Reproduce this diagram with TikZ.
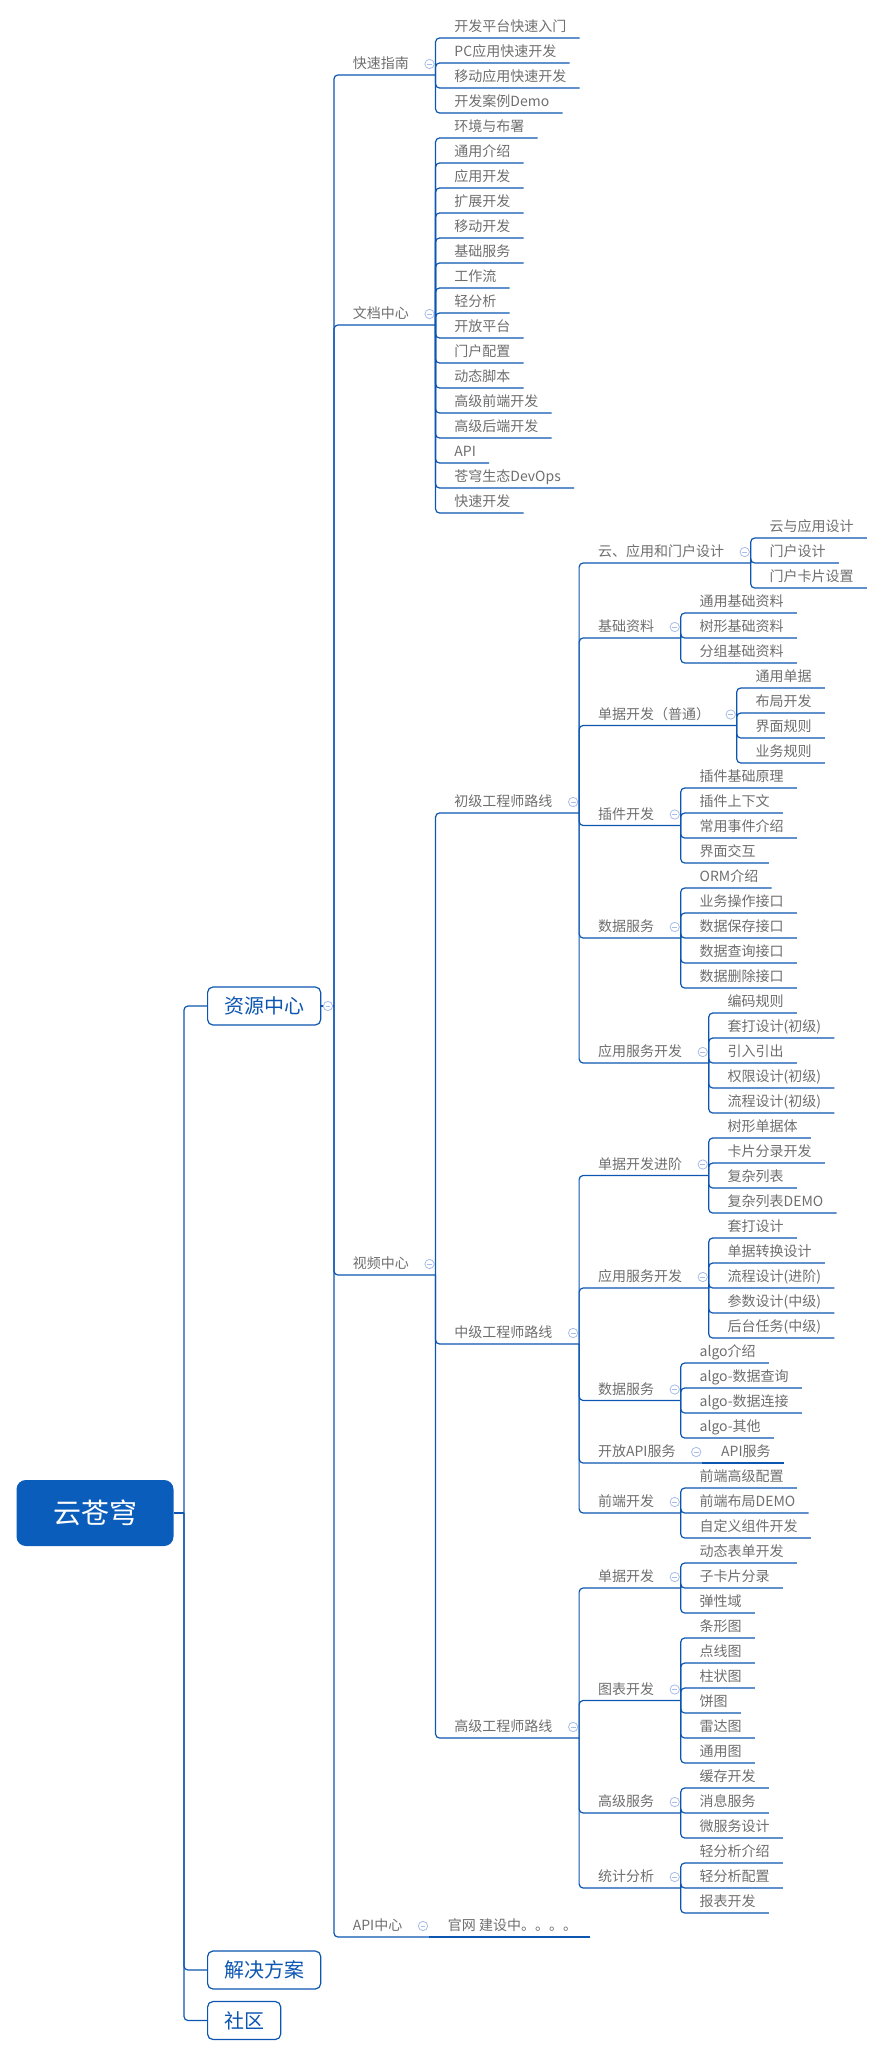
\documentclass[tikz,border=0pt]{standalone}
\usepackage{fontspec}
\setmainfont{Noto Sans CJK SC}
\definecolor{linec}{HTML}{0C56B2}
\definecolor{rootc}{HTML}{0B5DBB}
\definecolor{txtc}{HTML}{6E6E6E}
\definecolor{foldc}{HTML}{A8BCE8}
\begin{document}
\begin{tikzpicture}[x=0.75pt, y=-0.75pt,
    link/.style={draw=linec, line width=0.9pt, rounded corners=3pt},
    topic/.style={anchor=south west, xshift=14pt, inner xsep=0pt, inner ysep=4.5pt, text depth=0pt, text=txtc, font=\fontsize{10.5pt}{12pt}\selectfont},
    box/.style={anchor=west, draw=linec, line width=0.9pt, rounded corners=4pt, fill=white, text=linec, inner xsep=12.4pt, minimum height=28.5pt, font=\fontsize{15pt}{18pt}\selectfont},
    rootbox/.style={fill=rootc, rounded corners=7pt, text=white, minimum width=117.75pt, minimum height=49.5pt, font=\fontsize{21pt}{24pt}\selectfont},
    fold/.style={circle, draw=foldc, fill=white, line width=0.6pt, minimum size=7pt, inner sep=0pt,
        path picture={\draw[foldc, line width=0.6pt] ([xshift=-1.8pt]path picture bounding box.center) -- ([xshift=1.8pt]path picture bounding box.center);}}]
    \useasboundingbox (0,0) rectangle (883,2056);

    % root and first level
    \node[rootbox] (root) at (95,1513) {云苍穹};
    \coordinate (trunk) at (184,1513);
    \node[box] (zyzx) at (207,1006) {资源中心};
    \node[box] (jjfa) at (207,1970) {解决方案};
    \node[box] (sq) at (207,2020.5) {社区};
    \draw[link] (root.east) -- (trunk);
    \foreach \c in {zyzx,jjfa,sq} \draw[link] (trunk) |- (\c.west);
    \coordinate (zyzx-e) at ([xshift=9.5pt]zyzx.east);
    \draw[link] (zyzx.east) -- (zyzx-e);
    \node[fold] (zyzx-f) at ([xshift=5pt]zyzx.east) {};

    % second level
    \node[topic] (kszn) at (zyzx-e |- 0,75) {快速指南};
    \node[topic] (wdzx) at (zyzx-e |- 0,325) {文档中心};
    \node[topic] (spzx) at (zyzx-e |- 0,1275) {视频中心};
    \node[topic] (apizx) at (zyzx-e |- 0,1937) {API中心};
    \foreach \c in {kszn,wdzx,spzx,apizx}{
        \coordinate (\c-e) at ([xshift=19.8pt]\c.south east);
        \node[fold] (\c-f) at ([xshift=15.3pt,yshift=8.25pt]\c.south east) {};
        \draw[link] (zyzx-e) |- (\c-e);
    }

    % quick guide
    \node[topic] (k1) at (kszn-e |- 0,38) {开发平台快速入门};
    \node[topic] (k2) at (kszn-e |- 0,63) {PC应用快速开发};
    \node[topic] (k3) at (kszn-e |- 0,88) {移动应用快速开发};
    \node[topic] (k4) at (kszn-e |- 0,113) {开发案例Demo};
    \foreach \c in {k1,k2,k3,k4} \draw[link] (kszn-e) |- ([xshift=9.75pt]\c.south east);

    % documents
    \node[topic] (w1) at (wdzx-e |- 0,138) {环境与布署};
    \node[topic] (w2) at (wdzx-e |- 0,163) {通用介绍};
    \node[topic] (w3) at (wdzx-e |- 0,188) {应用开发};
    \node[topic] (w4) at (wdzx-e |- 0,213) {扩展开发};
    \node[topic] (w5) at (wdzx-e |- 0,238) {移动开发};
    \node[topic] (w6) at (wdzx-e |- 0,263) {基础服务};
    \node[topic] (w7) at (wdzx-e |- 0,288) {工作流};
    \node[topic] (w8) at (wdzx-e |- 0,313) {轻分析};
    \node[topic] (w9) at (wdzx-e |- 0,338) {开放平台};
    \node[topic] (w10) at (wdzx-e |- 0,363) {门户配置};
    \node[topic] (w11) at (wdzx-e |- 0,388) {动态脚本};
    \node[topic] (w12) at (wdzx-e |- 0,413) {高级前端开发};
    \node[topic] (w13) at (wdzx-e |- 0,438) {高级后端开发};
    \node[topic] (w14) at (wdzx-e |- 0,463) {API};
    \node[topic] (w15) at (wdzx-e |- 0,488) {苍穹生态DevOps};
    \node[topic] (w16) at (wdzx-e |- 0,513) {快速开发};
    \foreach \c in {w1,w2,w3,w4,w5,w6,w7,w8,w9,w10,w11,w12,w13,w14,w15,w16}
        \draw[link] (wdzx-e) |- ([xshift=9.75pt]\c.south east);

    % videos
    \node[topic] (cj) at (spzx-e |- 0,813) {初级工程师路线};
    \node[topic] (zj) at (spzx-e |- 0,1344) {中级工程师路线};
    \node[topic] (gj) at (spzx-e |- 0,1738) {高级工程师路线};
    \foreach \c in {cj,zj,gj}{
        \coordinate (\c-e) at ([xshift=19.8pt]\c.south east);
        \node[fold] (\c-f) at ([xshift=15.3pt,yshift=8.25pt]\c.south east) {};
        \draw[link] (spzx-e) |- (\c-e);
    }

    % junior
    \node[topic] (cj1) at (cj-e |- 0,563) {云、应用和门户设计};
    \node[topic] (cj2) at (cj-e |- 0,638) {基础资料};
    \node[topic] (cj3) at (cj-e |- 0,725.5) {单据开发（普通）};
    \node[topic] (cj4) at (cj-e |- 0,825.5) {插件开发};
    \node[topic] (cj5) at (cj-e |- 0,938) {数据服务};
    \node[topic] (cj6) at (cj-e |- 0,1063) {应用服务开发};
    \foreach \c in {cj1,cj2,cj3,cj4,cj5,cj6}{
        \coordinate (\c-e) at ([xshift=19.8pt]\c.south east);
        \node[fold] (\c-f) at ([xshift=15.3pt,yshift=8.25pt]\c.south east) {};
        \draw[link] (cj-e) |- (\c-e);
    }
    \node[topic] (cj1a) at (cj1-e |- 0,538) {云与应用设计};
    \node[topic] (cj1b) at (cj1-e |- 0,563) {门户设计};
    \node[topic] (cj1c) at (cj1-e |- 0,588) {门户卡片设置};
    \foreach \c in {cj1a,cj1b,cj1c} \draw[link] (cj1-e) |- ([xshift=9.75pt]\c.south east);
    \node[topic] (cj2a) at (cj2-e |- 0,613) {通用基础资料};
    \node[topic] (cj2b) at (cj2-e |- 0,638) {树形基础资料};
    \node[topic] (cj2c) at (cj2-e |- 0,663) {分组基础资料};
    \foreach \c in {cj2a,cj2b,cj2c} \draw[link] (cj2-e) |- ([xshift=9.75pt]\c.south east);
    \node[topic] (cj3a) at (cj3-e |- 0,688) {通用单据};
    \node[topic] (cj3b) at (cj3-e |- 0,713) {布局开发};
    \node[topic] (cj3c) at (cj3-e |- 0,738) {界面规则};
    \node[topic] (cj3d) at (cj3-e |- 0,763) {业务规则};
    \foreach \c in {cj3a,cj3b,cj3c,cj3d} \draw[link] (cj3-e) |- ([xshift=9.75pt]\c.south east);
    \node[topic] (cj4a) at (cj4-e |- 0,788) {插件基础原理};
    \node[topic] (cj4b) at (cj4-e |- 0,813) {插件上下文};
    \node[topic] (cj4c) at (cj4-e |- 0,838) {常用事件介绍};
    \node[topic] (cj4d) at (cj4-e |- 0,863) {界面交互};
    \foreach \c in {cj4a,cj4b,cj4c,cj4d} \draw[link] (cj4-e) |- ([xshift=9.75pt]\c.south east);
    \node[topic] (cj5a) at (cj5-e |- 0,888) {ORM介绍};
    \node[topic] (cj5b) at (cj5-e |- 0,913) {业务操作接口};
    \node[topic] (cj5c) at (cj5-e |- 0,938) {数据保存接口};
    \node[topic] (cj5d) at (cj5-e |- 0,963) {数据查询接口};
    \node[topic] (cj5e) at (cj5-e |- 0,988) {数据删除接口};
    \foreach \c in {cj5a,cj5b,cj5c,cj5d,cj5e} \draw[link] (cj5-e) |- ([xshift=9.75pt]\c.south east);
    \node[topic] (cj6a) at (cj6-e |- 0,1013) {编码规则};
    \node[topic] (cj6b) at (cj6-e |- 0,1038) {套打设计(初级)};
    \node[topic] (cj6c) at (cj6-e |- 0,1063) {引入引出};
    \node[topic] (cj6d) at (cj6-e |- 0,1088) {权限设计(初级)};
    \node[topic] (cj6e) at (cj6-e |- 0,1113) {流程设计(初级)};
    \foreach \c in {cj6a,cj6b,cj6c,cj6d,cj6e} \draw[link] (cj6-e) |- ([xshift=9.75pt]\c.south east);

    % middle
    \node[topic] (zj1) at (zj-e |- 0,1175.5) {单据开发进阶};
    \node[topic] (zj2) at (zj-e |- 0,1288) {应用服务开发};
    \node[topic] (zj3) at (zj-e |- 0,1400.5) {数据服务};
    \node[topic] (zj4) at (zj-e |- 0,1463) {开放API服务};
    \node[topic] (zj5) at (zj-e |- 0,1513) {前端开发};
    \foreach \c in {zj1,zj2,zj3,zj4,zj5}{
        \coordinate (\c-e) at ([xshift=19.8pt]\c.south east);
        \node[fold] (\c-f) at ([xshift=15.3pt,yshift=8.25pt]\c.south east) {};
        \draw[link] (zj-e) |- (\c-e);
    }
    \node[topic] (zj1a) at (zj1-e |- 0,1138) {树形单据体};
    \node[topic] (zj1b) at (zj1-e |- 0,1163) {卡片分录开发};
    \node[topic] (zj1c) at (zj1-e |- 0,1188) {复杂列表};
    \node[topic] (zj1d) at (zj1-e |- 0,1213) {复杂列表DEMO};
    \foreach \c in {zj1a,zj1b,zj1c,zj1d} \draw[link] (zj1-e) |- ([xshift=9.75pt]\c.south east);
    \node[topic] (zj2a) at (zj2-e |- 0,1238) {套打设计};
    \node[topic] (zj2b) at (zj2-e |- 0,1263) {单据转换设计};
    \node[topic] (zj2c) at (zj2-e |- 0,1288) {流程设计(进阶)};
    \node[topic] (zj2d) at (zj2-e |- 0,1313) {参数设计(中级)};
    \node[topic] (zj2e) at (zj2-e |- 0,1338) {后台任务(中级)};
    \foreach \c in {zj2a,zj2b,zj2c,zj2d,zj2e} \draw[link] (zj2-e) |- ([xshift=9.75pt]\c.south east);
    \node[topic] (zj3a) at (zj3-e |- 0,1363) {algo介绍};
    \node[topic] (zj3b) at (zj3-e |- 0,1388) {algo-数据查询};
    \node[topic] (zj3c) at (zj3-e |- 0,1413) {algo-数据连接};
    \node[topic] (zj3d) at (zj3-e |- 0,1438) {algo-其他};
    \foreach \c in {zj3a,zj3b,zj3c,zj3d} \draw[link] (zj3-e) |- ([xshift=9.75pt]\c.south east);
    \node[topic] (zj4a) at (zj4-e |- 0,1463) {API服务};
    \draw[link] (zj4-e) -- ([xshift=9.75pt]zj4a.south east);
    \node[topic] (zj5a) at (zj5-e |- 0,1488) {前端高级配置};
    \node[topic] (zj5b) at (zj5-e |- 0,1513) {前端布局DEMO};
    \node[topic] (zj5c) at (zj5-e |- 0,1538) {自定义组件开发};
    \foreach \c in {zj5a,zj5b,zj5c} \draw[link] (zj5-e) |- ([xshift=9.75pt]\c.south east);

    % senior
    \node[topic] (gj1) at (gj-e |- 0,1588) {单据开发};
    \node[topic] (gj2) at (gj-e |- 0,1700.5) {图表开发};
    \node[topic] (gj3) at (gj-e |- 0,1813) {高级服务};
    \node[topic] (gj4) at (gj-e |- 0,1888) {统计分析};
    \foreach \c in {gj1,gj2,gj3,gj4}{
        \coordinate (\c-e) at ([xshift=19.8pt]\c.south east);
        \node[fold] (\c-f) at ([xshift=15.3pt,yshift=8.25pt]\c.south east) {};
        \draw[link] (gj-e) |- (\c-e);
    }
    \node[topic] (gj1a) at (gj1-e |- 0,1563) {动态表单开发};
    \node[topic] (gj1b) at (gj1-e |- 0,1588) {子卡片分录};
    \node[topic] (gj1c) at (gj1-e |- 0,1613) {弹性域};
    \foreach \c in {gj1a,gj1b,gj1c} \draw[link] (gj1-e) |- ([xshift=9.75pt]\c.south east);
    \node[topic] (gj2a) at (gj2-e |- 0,1638) {条形图};
    \node[topic] (gj2b) at (gj2-e |- 0,1663) {点线图};
    \node[topic] (gj2c) at (gj2-e |- 0,1688) {柱状图};
    \node[topic] (gj2d) at (gj2-e |- 0,1713) {饼图};
    \node[topic] (gj2e) at (gj2-e |- 0,1738) {雷达图};
    \node[topic] (gj2f) at (gj2-e |- 0,1763) {通用图};
    \foreach \c in {gj2a,gj2b,gj2c,gj2d,gj2e,gj2f} \draw[link] (gj2-e) |- ([xshift=9.75pt]\c.south east);
    \node[topic] (gj3a) at (gj3-e |- 0,1788) {缓存开发};
    \node[topic] (gj3b) at (gj3-e |- 0,1813) {消息服务};
    \node[topic] (gj3c) at (gj3-e |- 0,1838) {微服务设计};
    \foreach \c in {gj3a,gj3b,gj3c} \draw[link] (gj3-e) |- ([xshift=9.75pt]\c.south east);
    \node[topic] (gj4a) at (gj4-e |- 0,1863) {轻分析介绍};
    \node[topic] (gj4b) at (gj4-e |- 0,1888) {轻分析配置};
    \node[topic] (gj4c) at (gj4-e |- 0,1913) {报表开发};
    \foreach \c in {gj4a,gj4b,gj4c} \draw[link] (gj4-e) |- ([xshift=9.75pt]\c.south east);

    % api centre
    \node[topic] (api1) at (apizx-e |- 0,1937) {官网 建设中。。。。};
    \draw[link] (apizx-e) -- ([xshift=9.75pt]api1.south east);
\end{tikzpicture}
\end{document}
